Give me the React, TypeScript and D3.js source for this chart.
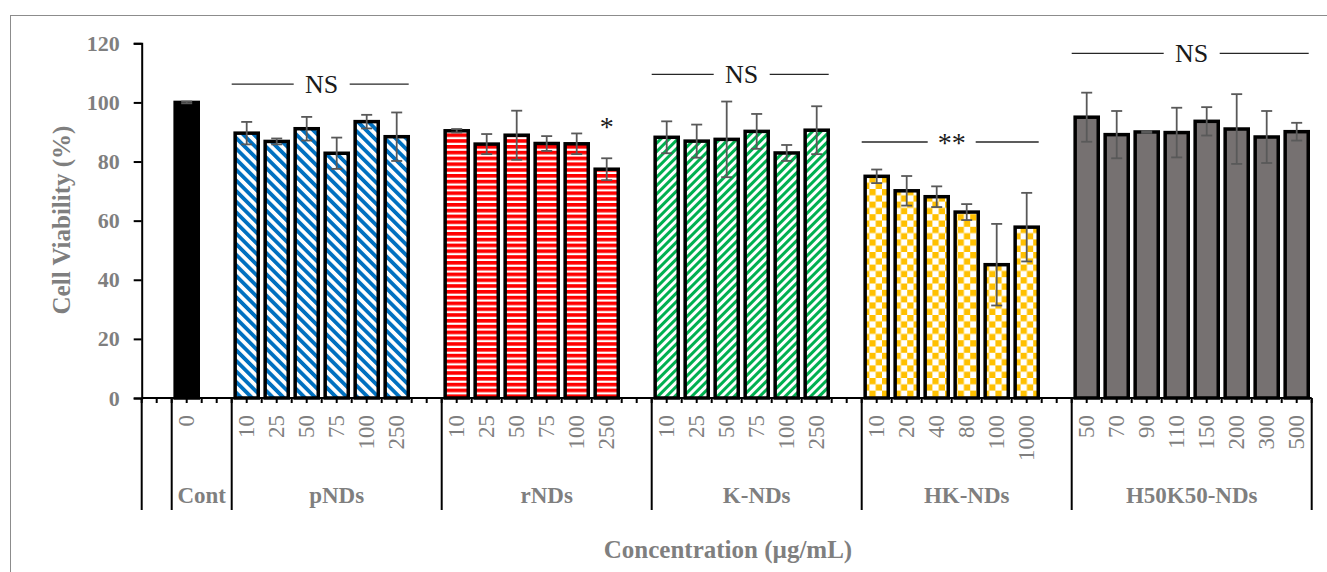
import React, { useEffect, useRef } from "react";
import * as d3 from "d3";

// groups along the x axis (first one is an empty spacer group)
const groupNames = ["", "Cont", "pNDs", "rNDs", "K-NDs", "HK-NDs", "H50K50-NDs"];

const contDoses = ["0"];
const contValues = [100];
const contErrors = [0.3];

const pNDsDoses = ["10", "25", "50", "75", "100", "250"];
const pNDsValues = [89.6, 86.8, 91.1, 82.8, 93.5, 88.4];
const pNDsErrors = [3.8, 1.0, 4.0, 5.3, 2.3, 8.2];

const rNDsDoses = ["10", "25", "50", "75", "100", "250"];
const rNDsValues = [90.4, 85.9, 88.9, 86.1, 86.0, 77.4];
const rNDsErrors = [0.6, 3.4, 8.3, 2.5, 3.5, 3.7];

const kNDsDoses = ["10", "25", "50", "75", "100", "250"];
const kNDsValues = [88.2, 86.9, 87.5, 90.2, 82.9, 90.6];
const kNDsErrors = [5.4, 5.6, 12.8, 5.9, 2.7, 8.1];

const hkNDsDoses = ["10", "20", "40", "80", "100", "1000"];
const hkNDsValues = [75.0, 70.1, 68.1, 62.9, 45.1, 57.8];
const hkNDsErrors = [2.3, 5.0, 3.5, 2.7, 13.8, 11.6];

const h50k50Doses = ["50", "70", "90", "110", "150", "200", "300", "500"];
const h50k50Values = [95.0, 89.1, 90.0, 89.8, 93.6, 91.0, 88.3, 90.1];
const h50k50Errors = [8.3, 8.0, 0.3, 8.4, 4.8, 11.8, 8.8, 3.0];

const yTicks = [0, 20, 40, 60, 80, 100, 120];

// significance marks above groups
const sigGroups = ["pNDs", "rNDs", "K-NDs", "HK-NDs", "H50K50-NDs"];
const sigTexts = ["NS", "*", "NS", "**", "NS"];
const sigLevels = [106.2, 93.5, 109.5, 86.6, 116.6];

const FONT = "'Liberation Serif', 'Times New Roman', serif";
const GRAY = "#7f7f7f";

export default function App() {
  const ref = useRef<SVGSVGElement>(null);

  useEffect(() => {
    const svg = d3.select(ref.current);
    svg.selectAll("*").remove();

    const groups = [
      { name: groupNames[0], doses: [] as string[], values: [] as number[], errors: [] as number[], gap: 1, fill: "none" },
      { name: groupNames[1], doses: contDoses, values: contValues, errors: contErrors, gap: 1, fill: "#000" },
      { name: groupNames[2], doses: pNDsDoses, values: pNDsValues, errors: pNDsErrors, gap: 1, fill: "url(#pBlue)" },
      { name: groupNames[3], doses: rNDsDoses, values: rNDsValues, errors: rNDsErrors, gap: 1, fill: "url(#pRed)" },
      { name: groupNames[4], doses: kNDsDoses, values: kNDsValues, errors: kNDsErrors, gap: 1, fill: "url(#pGreen)" },
      { name: groupNames[5], doses: hkNDsDoses, values: hkNDsValues, errors: hkNDsErrors, gap: 1, fill: "url(#pGold)" },
      { name: groupNames[6], doses: h50k50Doses, values: h50k50Values, errors: h50k50Errors, gap: 0, fill: "#767171" },
    ];

    // flatten into slots
    const slots: any[] = [];
    groups.forEach((g, gi) => {
      g.doses.forEach((d, i) => {
        slots.push({ key: `${gi}-${i}`, gi, dose: d, value: g.values[i], err: g.errors[i], fill: g.fill });
      });
      for (let j = 0; j < g.gap; j++) slots.push({ key: `${gi}-gap${j}`, gi });
    });

    const left = 141.7;
    const right = 1311.7;
    const axisY = 398;

    const x = d3.scaleBand().domain(slots.map(s => s.key)).range([left, right]).padding(0);
    const y = d3.scaleLinear().domain([0, 120]).range([axisY, 43.3]);
    const step = x.step();
    const barW = step * 0.77;

    const span = (gi: number) => {
      const ks = slots.filter(s => s.gi === gi);
      return [x(ks[0].key)!, x(ks[ks.length - 1].key)! + step];
    };
    const barSpan = (gi: number) => {
      const ks = slots.filter(s => s.gi === gi && s.dose !== undefined);
      return [x(ks[0].key)!, x(ks[ks.length - 1].key)! + step];
    };

    // frame
    svg.append("rect").attr("x", 10.5).attr("y", 15.5).attr("width", 1330).attr("height", 580)
      .attr("fill", "#fff").attr("stroke", "#8c8c8c").attr("stroke-width", 1);

    // patterns
    const defs = svg.append("defs");
    const blue = defs.append("pattern").attr("id", "pBlue").attr("patternUnits", "userSpaceOnUse")
      .attr("width", 7.5).attr("height", 7.5).attr("patternTransform", "rotate(-45)");
    blue.append("rect").attr("width", 7.5).attr("height", 7.5).attr("fill", "#fff");
    blue.append("rect").attr("width", 3.8).attr("height", 7.5).attr("fill", "#0070C0");

    const red = defs.append("pattern").attr("id", "pRed").attr("patternUnits", "userSpaceOnUse")
      .attr("width", 6).attr("height", 5.8);
    red.append("rect").attr("width", 6).attr("height", 5.8).attr("fill", "#fff");
    red.append("rect").attr("width", 6).attr("height", 3.6).attr("fill", "#ff0000");

    const green = defs.append("pattern").attr("id", "pGreen").attr("patternUnits", "userSpaceOnUse")
      .attr("width", 6).attr("height", 6).attr("patternTransform", "rotate(45)");
    green.append("rect").attr("width", 6).attr("height", 6).attr("fill", "#fff");
    green.append("rect").attr("width", 3).attr("height", 6).attr("fill", "#00B050");

    const gold = defs.append("pattern").attr("id", "pGold").attr("patternUnits", "userSpaceOnUse")
      .attr("width", 12.6).attr("height", 12.6);
    gold.append("rect").attr("width", 12.6).attr("height", 12.6).attr("fill", "#fff");
    gold.append("rect").attr("width", 6.3).attr("height", 6.3).attr("fill", "#FFC000");
    gold.append("rect").attr("x", 6.3).attr("y", 6.3).attr("width", 6.3).attr("height", 6.3).attr("fill", "#FFC000");

    const bars = slots.filter(s => s.dose !== undefined);

    // bars
    svg.append("g").selectAll("rect").data(bars).join("rect")
      .attr("x", d => x(d.key)! + (step - barW) / 2)
      .attr("y", d => y(d.value))
      .attr("width", barW)
      .attr("height", d => axisY - y(d.value))
      .attr("fill", d => d.fill)
      .attr("stroke", "#000")
      .attr("stroke-width", 3.5);

    // error bars
    const eb = svg.append("g").attr("stroke", "#595959").attr("stroke-width", 1.8);
    bars.forEach(d => {
      const cx = x(d.key)! + step / 2;
      const y0 = y(d.value - d.err);
      const y1 = y(d.value + d.err);
      eb.append("line").attr("x1", cx).attr("x2", cx).attr("y1", y0).attr("y2", y1);
      eb.append("line").attr("x1", cx - 5.5).attr("x2", cx + 5.5).attr("y1", y0).attr("y2", y0);
      eb.append("line").attr("x1", cx - 5.5).attr("x2", cx + 5.5).attr("y1", y1).attr("y2", y1);
    });

    // y axis
    const yAxis = svg.append("g").attr("transform", `translate(${left},0)`)
      .call(d3.axisLeft(y).tickValues(yTicks).tickSize(8).tickPadding(14));
    yAxis.select(".domain").attr("stroke", "#000").attr("stroke-width", 2);
    yAxis.selectAll(".tick line").attr("stroke", "#000").attr("stroke-width", 2);
    yAxis.selectAll(".tick text").attr("fill", GRAY).attr("font-family", FONT)
      .attr("font-size", 22).attr("font-weight", "bold");

    // x axis line and small ticks
    const xa = svg.append("g").attr("stroke", "#000").attr("stroke-width", 2);
    xa.append("line").attr("x1", left).attr("x2", right).attr("y1", axisY).attr("y2", axisY);
    d3.range(0, slots.length * 2 + 1).forEach(i => {
      const tx = left + (i * step) / 2;
      xa.append("line").attr("x1", tx).attr("x2", tx).attr("y1", axisY).attr("y2", axisY + 5);
    });

    // group dividers
    const dividers = [left, ...groups.map((g, gi) => span(gi)[1])];
    dividers.forEach(dx => {
      xa.append("line").attr("x1", dx).attr("x2", dx).attr("y1", axisY).attr("y2", 510);
    });

    // dose labels
    svg.append("g").selectAll("text").data(bars).join("text")
      .attr("transform", d => `translate(${x(d.key)! + step / 2},415) rotate(-90)`)
      .attr("text-anchor", "end")
      .attr("dominant-baseline", "central")
      .attr("fill", GRAY)
      .attr("font-family", FONT)
      .attr("font-size", 23)
      .text(d => d.dose);

    // group labels
    groups.forEach((g, gi) => {
      const [a, b] = span(gi);
      svg.append("text").attr("x", (a + b) / 2).attr("y", 503)
        .attr("text-anchor", "middle").attr("fill", GRAY).attr("font-family", FONT)
        .attr("font-size", 23).attr("font-weight", "bold").text(g.name);
    });

    // axis titles
    svg.append("text").attr("transform", "translate(61,220) rotate(-90)")
      .attr("text-anchor", "middle").attr("dominant-baseline", "central")
      .attr("fill", GRAY).attr("font-family", FONT).attr("font-size", 25).attr("font-weight", "bold")
      .text("Cell Viability (%)");
    svg.append("text").attr("x", 728).attr("y", 558)
      .attr("text-anchor", "middle")
      .attr("fill", GRAY).attr("font-family", FONT).attr("font-size", 25).attr("font-weight", "bold")
      .text("Concentration (µg/mL)");

    // significance marks
    const sig = svg.append("g");
    sigGroups.forEach((name, i) => {
      const gi = groupNames.indexOf(name);
      const [a, b] = barSpan(gi);
      const ly = y(sigLevels[i]);
      const text = sigTexts[i];
      if (text === "*") {
        const last = bars.filter(s => s.gi === gi).slice(-1)[0];
        sig.append("text").attr("x", x(last.key)! + step / 2).attr("y", ly + 14)
          .attr("text-anchor", "middle").attr("fill", "#1a1a1a").attr("font-family", FONT)
          .attr("font-size", 28).text(text);
        return;
      }
      const cx = (a + b) / 2;
      const gap = text === "**" ? 24 : 28;
      sig.append("line").attr("x1", a).attr("x2", cx - gap).attr("y1", ly).attr("y2", ly)
        .attr("stroke", "#262626").attr("stroke-width", 1.3);
      sig.append("line").attr("x1", cx + gap).attr("x2", b - 3).attr("y1", ly).attr("y2", ly)
        .attr("stroke", "#262626").attr("stroke-width", 1.3);
      sig.append("text").attr("x", cx).attr("y", text === "**" ? ly + 10 : ly + 9)
        .attr("text-anchor", "middle").attr("fill", "#1a1a1a").attr("font-family", FONT)
        .attr("font-size", text === "**" ? 28 : 26).text(text);
    });
  }, []);

  return (
    <svg ref={ref} width={1327} height={572}
      style={{ position: "absolute", left: 0, top: 0, background: "#fff" }} />
  );
}
